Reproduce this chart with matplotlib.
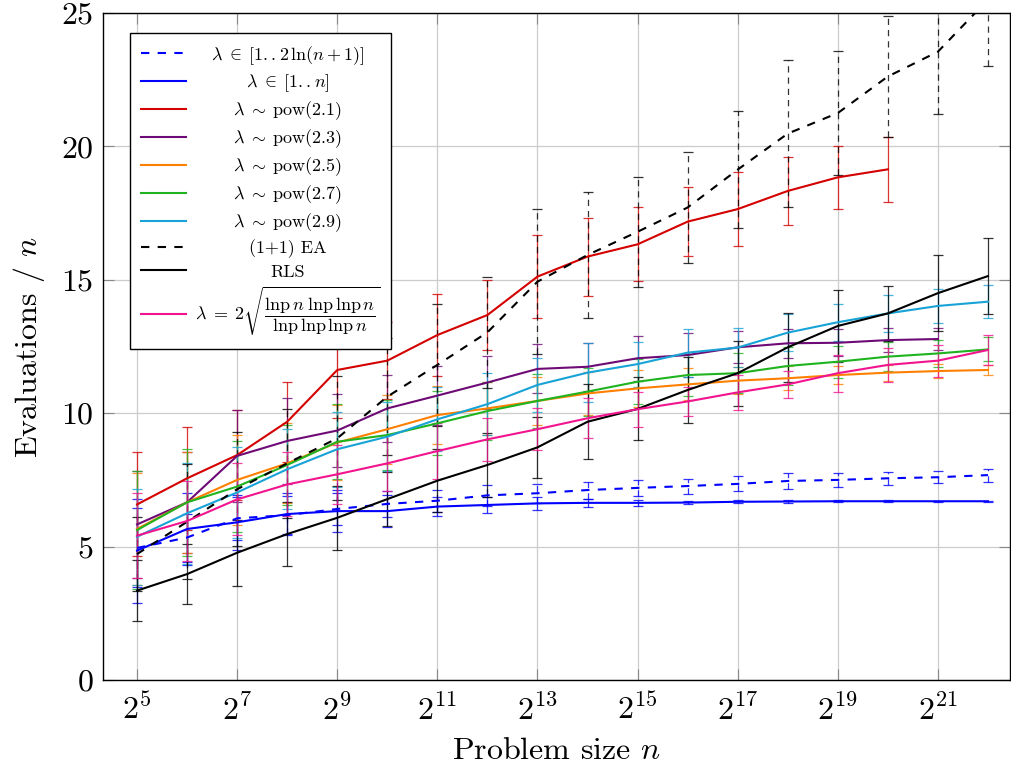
import matplotlib
matplotlib.use("Agg")
import matplotlib.pyplot as plt
import numpy as np

plt.rcParams['font.family'] = ['cmr10', 'DejaVu Serif']
plt.rcParams['mathtext.fontset'] = 'cm'
plt.rcParams['axes.formatter.use_mathtext'] = True
plt.rcParams['axes.unicode_minus'] = False

# ---------------- data ----------------
exponents = list(range(5, 23))  # n = 2^5 .. 2^22
xtick_exps = [5, 7, 9, 11, 13, 15, 17, 19, 21]
xtick_labels = [r'$2^{5}$', r'$2^{7}$', r'$2^{9}$', r'$2^{11}$', r'$2^{13}$',
                r'$2^{15}$', r'$2^{17}$', r'$2^{19}$', r'$2^{21}$']
yticks = [0, 5, 10, 15, 20, 25]

labels = [r'$\lambda\;\in\;[1..2\,\ln(n+1)]$',
          r'$\lambda\;\in\;[1..n]$',
          r'$\lambda\;\sim\;\mathrm{pow}(2.1)$',
          r'$\lambda\;\sim\;\mathrm{pow}(2.3)$',
          r'$\lambda\;\sim\;\mathrm{pow}(2.5)$',
          r'$\lambda\;\sim\;\mathrm{pow}(2.7)$',
          r'$\lambda\;\sim\;\mathrm{pow}(2.9)$',
          '(1+1) EA',
          'RLS',
          r'$\lambda\;=\;2\sqrt{\dfrac{\mathrm{lnp}\,n\;\mathrm{lnp}\,\mathrm{lnp}\,n}{\mathrm{lnp}\,\mathrm{lnp}\,\mathrm{lnp}\,n}}$']

ln_mean = [4.95, 5.34, 6.06, 6.18, 6.41, 6.60, 6.72, 6.92, 7.00, 7.12, 7.20, 7.27, 7.35, 7.46, 7.50, 7.56, 7.60, 7.68]
ln_err = [1.48, 0.9, 0.8, 0.7, 0.6, 0.5, 0.42, 0.4, 0.35, 0.32, 0.3, 0.28, 0.28, 0.3, 0.25, 0.24, 0.23, 0.24]

n_mean = [4.85, 5.66, 5.91, 6.22, 6.33, 6.33, 6.50, 6.56, 6.62, 6.64, 6.64, 6.65, 6.68, 6.69, 6.70, 6.70, 6.70, 6.70]
n_err = [1.95, 1.35, 1.04, 0.8, 0.8, 0.6, 0.35, 0.3, 0.25, 0.15, 0.1, 0.06, 0.05, 0.04, 0.03, 0.03, 0.02, 0.02]

p21_mean = [6.58, 7.56, 8.43, 9.68, 11.62, 11.97, 12.93, 13.68, 15.12, 15.87, 16.33, 17.18, 17.65, 18.33, 18.84, 19.14]
p21_err = [1.95, 1.94, 1.69, 1.5, 1.8, 1.45, 1.54, 1.31, 1.57, 1.46, 1.38, 1.28, 1.39, 1.29, 1.18, 1.23]

p23_mean = [5.83, 6.66, 8.40, 8.96, 9.35, 10.18, 10.66, 11.15, 11.66, 11.74, 12.06, 12.18, 12.47, 12.62, 12.64, 12.74, 12.78]
p23_err = [2.0, 1.9, 1.72, 1.6, 1.36, 1.25, 1.1, 1.0, 0.92, 0.9, 0.85, 0.82, 0.6, 0.55, 0.5, 0.45, 0.4]

p25_mean = [5.66, 6.66, 7.50, 8.12, 8.90, 9.40, 9.93, 10.18, 10.46, 10.74, 10.93, 11.08, 11.22, 11.31, 11.43, 11.52, 11.58, 11.62]
p25_err = [2.1, 1.9, 1.7, 1.5, 1.4, 1.3, 1.1, 1.0, 0.9, 0.8, 0.7, 0.6, 0.5, 0.45, 0.35, 0.3, 0.25, 0.2]

p27_mean = [5.62, 6.66, 7.25, 8.06, 8.93, 9.18, 9.62, 10.08, 10.46, 10.81, 11.18, 11.43, 11.50, 11.77, 11.93, 12.12, 12.24, 12.39]
p27_err = [2.2, 2.0, 1.7, 1.5, 1.4, 1.3, 1.2, 1.1, 1.0, 0.9, 0.85, 0.8, 0.75, 0.7, 0.6, 0.55, 0.5, 0.45]

p29_mean = [5.37, 6.25, 7.03, 7.90, 8.65, 9.12, 9.77, 10.34, 11.06, 11.52, 11.84, 12.27, 12.46, 13.02, 13.41, 13.74, 14.02, 14.18]
p29_err = [1.8, 1.9, 1.7, 1.5, 1.4, 1.3, 1.2, 1.15, 1.0, 1.1, 0.84, 0.9, 0.72, 0.7, 0.7, 0.68, 0.65, 0.62]

ea_mean = [4.72, 5.93, 7.15, 8.12, 9.06, 10.62, 11.81, 13.03, 14.93, 15.93, 16.80, 17.71, 19.13, 20.48, 21.25, 22.62, 23.55, 25.50]
ea_err = [1.4, 2.15, 2.13, 2.03, 2.33, 2.2, 2.3, 2.07, 2.72, 2.37, 2.07, 2.07, 2.2, 2.74, 2.33, 2.25, 2.35, 2.5]

rls_mean = [3.35, 3.97, 4.77, 5.47, 6.08, 6.78, 7.47, 8.06, 8.72, 9.68, 10.16, 10.87, 11.50, 12.47, 13.27, 13.74, 14.50, 15.14]
rls_err = [1.15, 1.12, 1.23, 1.21, 1.2, 1.0, 1.17, 1.2, 1.14, 1.4, 1.18, 1.22, 1.22, 1.3, 1.36, 1.04, 1.43, 1.43]

lnp_mean = [5.41, 5.96, 6.77, 7.33, 7.71, 8.12, 8.58, 9.02, 9.40, 9.81, 10.15, 10.44, 10.78, 11.08, 11.50, 11.81, 11.97, 12.37]
lnp_err = [1.6, 1.5, 1.35, 1.2, 1.1, 1.05, 1.06, 0.8, 0.78, 0.75, 0.65, 0.55, 0.66, 0.52, 0.69, 0.63, 0.6, 0.57]

series = [
    (ln_mean, ln_err, '#0000ff', '--'),
    (n_mean, n_err, '#0000ff', '-'),
    (p21_mean, p21_err, '#d40000', '-'),
    (p23_mean, p23_err, '#6e0a76', '-'),
    (p25_mean, p25_err, '#ff8000', '-'),
    (p27_mean, p27_err, '#1fb31f', '-'),
    (p29_mean, p29_err, '#18a3d7', '-'),
    (ea_mean, ea_err, '#000000', '--'),
    (rls_mean, rls_err, '#000000', '-'),
    (lnp_mean, lnp_err, '#f2148f', '-'),
]

# ---------------- figure ----------------
fig = plt.figure(figsize=(10.11, 7.72), dpi=100)
ax = fig.add_axes([103 / 1011, 1 - 680 / 772, 907 / 1011, 667 / 772])
ax.set_xscale('log', base=2)

handles = []
for (mean, err, color, ls), lab in zip(series, labels):
    xs = [2.0 ** e for e in exponents[:len(mean)]]
    eb = ax.errorbar(xs, mean, yerr=err, color=color, lw=1.5, capsize=3.6,
                     elinewidth=0.9, capthick=0.9, label=lab, clip_on=True)
    line = eb[0]
    line.set_solid_joinstyle('round')
    if ls == '--':
        line.set_dashes((4, 4))
        for bc in eb[2]:
            bc.set_linestyle((0, (5, 4)))
    for bc in eb[2]:
        bc.set_alpha(0.8)
    for cl in eb[1]:
        cl.set_alpha(0.8)
    handles.append(line)

ax.set_xlim(2 ** 4.32, 2 ** 22.44)
ax.set_ylim(0, 25)
ax.set_xticks([2.0 ** e for e in xtick_exps])
ax.set_xticklabels(xtick_labels)
ax.minorticks_off()
ax.set_yticks(yticks)
ax.set_yticklabels([str(v) for v in yticks])

ax.grid(True, color='#cccccc', lw=0.9)
ax.set_axisbelow(True)
ax.tick_params(axis='both', direction='in', length=8, width=0.8, color='#888888',
               labelsize=23, top=True, right=True)
ax.tick_params(axis='x', pad=10)
ax.tick_params(axis='y', pad=7)
for sp in ax.spines.values():
    sp.set_linewidth(1.0)

ax.set_xlabel(r'Problem size $n$', fontsize=23, labelpad=8)
ax.set_ylabel(r'Evaluations / $n$', fontsize=23, labelpad=10)

leg = ax.legend(handles, labels, loc='upper left',
                bbox_to_anchor=((130 - 103) / 907, (680 - 33) / 667),
                borderaxespad=0, fontsize=13, frameon=True, fancybox=False,
                edgecolor='black', framealpha=1, handlelength=2.5,
                handletextpad=0.5, labelspacing=0.3, borderpad=0.6)
leg.get_frame().set_linewidth(1.0)

# center legend texts within the text column (like pgfplots)
fig.canvas.draw()
renderer = fig.canvas.get_renderer()
widths = [t.get_window_extent(renderer).width for t in leg.get_texts()]
wmax = max(widths)
for t, w in zip(leg.get_texts(), widths):
    t.set_x((wmax - w) / 2)

fig.savefig('out.png', dpi=100)
